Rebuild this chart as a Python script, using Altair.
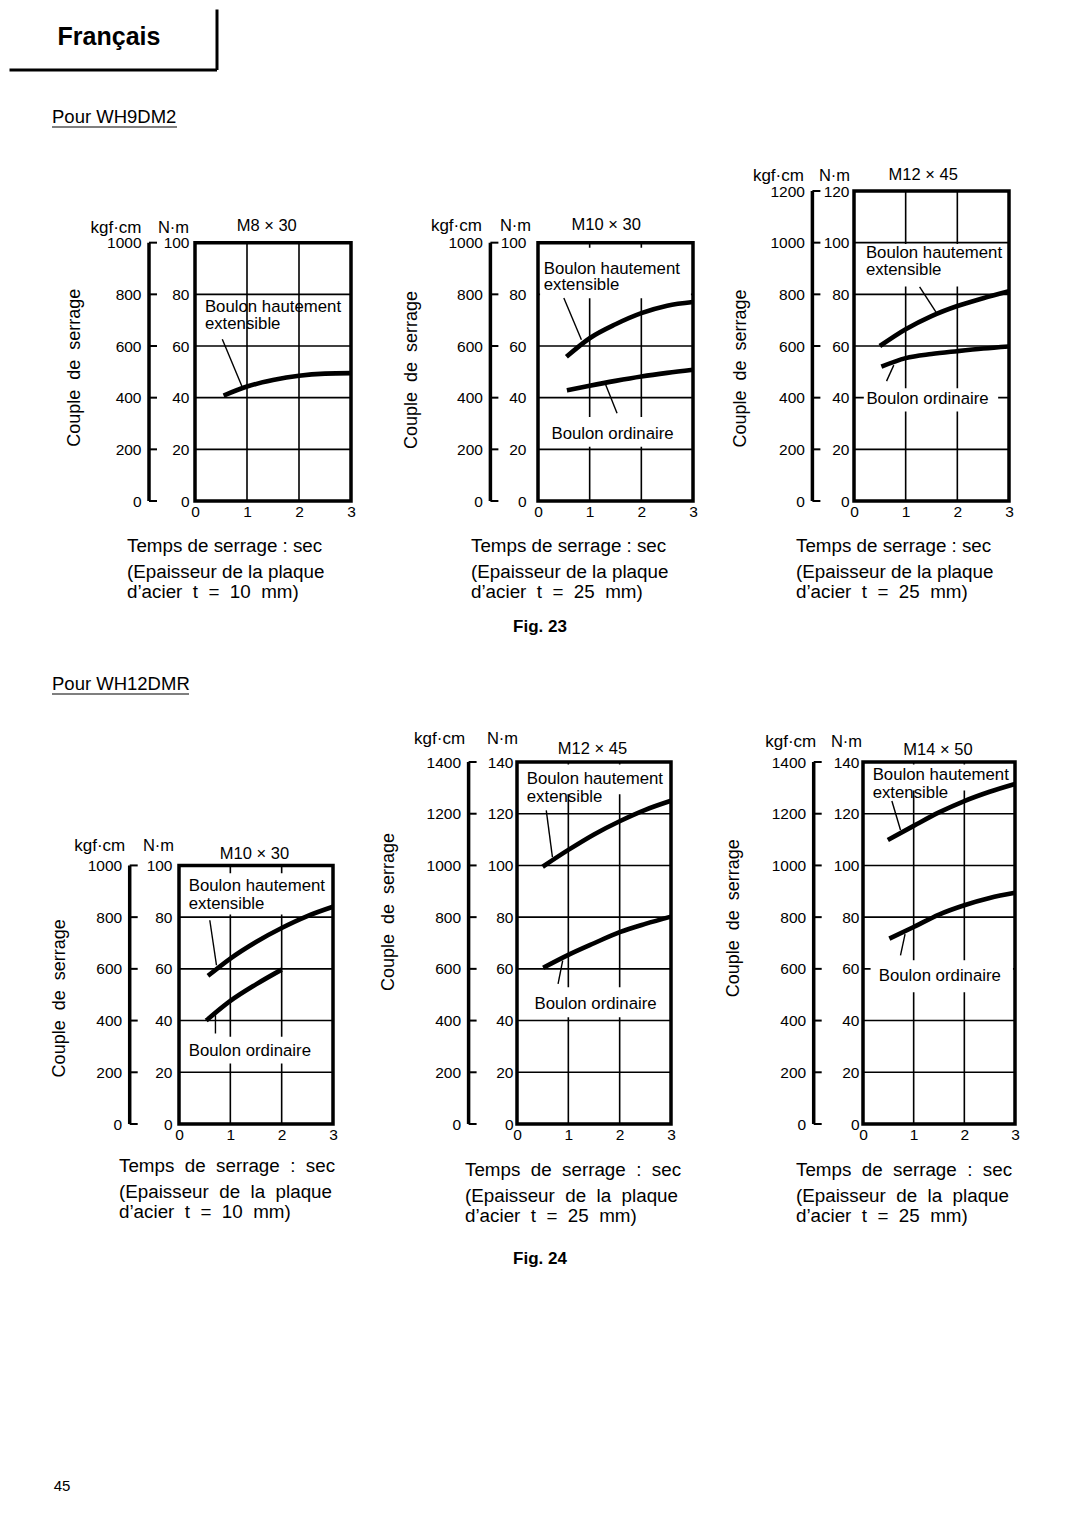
import altair as alt
import pandas as pd

FONT = "Liberation Sans"

# ------------------------------------------------------------------ data
x_ticks = [0, 1, 2, 3]

# Pour WH9DM2  (Fig. 23)
p1_title = "M8 × 30"
p1_hi_t = [0.55, 1.0, 1.5, 2.0, 2.5, 3.0]
p1_hi_v = [40.8, 44.3, 46.8, 48.5, 49.3, 49.5]
p1_or_t = []
p1_or_v = []

p2_title = "M10 × 30"
p2_hi_t = [0.55, 1.0, 1.5, 2.0, 2.5, 3.0]
p2_hi_v = [55.8, 63.0, 68.4, 72.7, 75.6, 77.0]
p2_or_t = [0.56, 1.0, 1.5, 2.0, 2.5, 3.0]
p2_or_v = [42.8, 44.6, 46.5, 48.2, 49.6, 50.8]

p3_title = "M12 × 45"
p3_hi_t = [0.5, 1.0, 1.5, 2.0, 2.5, 3.0]
p3_hi_v = [60.0, 66.5, 71.6, 75.5, 78.5, 81.2]
p3_or_t = [0.53, 1.0, 1.5, 2.0, 2.5, 3.0]
p3_or_v = [52.0, 55.3, 56.9, 58.0, 59.0, 59.8]

# Pour WH12DMR  (Fig. 24)
p4_title = "M10 × 30"
p4_hi_t = [0.565, 1.0, 1.5, 2.0, 2.5, 3.0]
p4_hi_v = [57.3, 64.0, 70.4, 75.8, 80.4, 84.0]
p4_or_t = [0.53, 1.0, 1.5, 2.0]
p4_or_v = [40.0, 47.6, 54.0, 59.7]

p5_title = "M12 × 45"
p5_hi_t = [0.5, 1.0, 1.5, 2.0, 2.5, 3.0]
p5_hi_v = [99.5, 106.0, 112.0, 117.1, 121.5, 125.0]
p5_or_t = [0.51, 1.0, 1.5, 2.0, 2.5, 3.0]
p5_or_v = [60.4, 65.4, 69.9, 74.2, 77.4, 80.2]

p6_title = "M14 × 50"
p6_hi_t = [0.49, 1.0, 1.5, 2.0, 2.5, 3.0]
p6_hi_v = [109.8, 115.3, 120.5, 124.9, 128.5, 131.5]
p6_or_t = [0.52, 1.0, 1.5, 2.0, 2.5, 3.0]
p6_or_v = [71.7, 76.2, 81.0, 84.6, 87.4, 89.4]

label_hi = ["Boulon hautement", "extensible"]
label_or = "Boulon ordinaire"
y_title = "Couple\u00a0 de\u00a0 serrage"
nm_title = "N·m"
kgf_title = "kgf·cm"

r1_xtitle = ["Temps de serrage : sec", "(Epaisseur de la plaque"]
r1_thick = ["d’acier\u00a0 t\u00a0 =\u00a0 10\u00a0 mm)", "d’acier\u00a0 t\u00a0 =\u00a0 25\u00a0 mm)"]
r2_xtitle = ["Temps\u00a0 de\u00a0 serrage\u00a0 :\u00a0 sec", "(Epaisseur\u00a0 de\u00a0 la\u00a0 plaque"]
r2_thick = ["d’acier\u00a0 t\u00a0 =\u00a0 10\u00a0 mm)", "d’acier\u00a0 t\u00a0 =\u00a0 25\u00a0 mm)"]

page_lang = "Français"
page_sections = ["Pour WH9DM2", "Pour WH12DMR"]
page_figs = ["Fig. 23", "Fig. 24"]
page_number = "45"

# annotation placement (data units: t in s, torque in N·m)
P = [
    dict(title=p1_title, hi=(p1_hi_t, p1_hi_v), orr=(p1_or_t, p1_or_v), ymax=100, w=156,
         kgf_off=46, nm_pad=6, nm_tx=-22, kg_tx=-8, ttl_y=36, tpos=(1.38, 106.4),
         ypos=(-2.31, 51.6), t_dx=-68, t_off=17, sub=(r1_xtitle, r1_thick[0]),
         hi_lab=(0.19, 75.1, 68.6), hi_lead=(0.525, 62.6, 0.9, 44.5), hi_box=None,
         or_lab=None, or_lead=None, or_box=None),
    dict(title=p2_title, hi=(p2_hi_t, p2_hi_v), orr=(p2_or_t, p2_or_v), ymax=100, w=155,
         kgf_off=47.6, nm_pad=12, nm_tx=-23, kg_tx=-9, ttl_y=34, tpos=(1.32, 107),
         ypos=(-2.43, 50.7), t_dx=-67, t_off=17, sub=(r1_xtitle, r1_thick[1]),
         hi_lab=(0.11, 90, 83.7), hi_lead=(0.50, 78.6, 0.84, 62.4), hi_box=(0.04, 2.96, 78.5, 98),
         or_lab=(0.26, 26), or_lead=(1.31, 45, 1.53, 34), or_box=(0.04, 2.96, 21, 32.5)),
    dict(title=p3_title, hi=(p3_hi_t, p3_hi_v), orr=(p3_or_t, p3_or_v), ymax=120, w=155,
         kgf_off=41.6, nm_pad=5, nm_tx=-20, kg_tx=-9, ttl_y=-15.6, tpos=(1.34, 126.1),
         ypos=(-2.19, 51.3), t_dx=-58, t_off=17, sub=(r1_xtitle, r1_thick[1]),
         hi_lab=(0.23, 96.1, 89.4), hi_lead=(1.27, 82.9, 1.59, 73), hi_box=(0.04, 2.96, 83, 99.5),
         or_lab=(0.24, 39.5), or_lead=(0.63, 46.4, 0.77, 52.6), or_box=(0.19, 2.79, 34.6, 43.6)),
    dict(title=p4_title, hi=(p4_hi_t, p4_hi_v), orr=(p4_or_t, p4_or_v), ymax=100, w=154,
         kgf_off=49.3, nm_pad=7, nm_tx=-21, kg_tx=-5, ttl_y=83.4, tpos=(1.47, 104.5),
         ypos=(-2.32, 48.6), t_dx=-60, t_off=14, sub=(r2_xtitle, r2_thick[0]),
         hi_lab=(0.19, 91.9, 84.9), hi_lead=(0.6, 78.8, 0.73, 61.4), hi_box=(0.04, 2.96, 81, 97),
         or_lab=(0.19, 28.3), or_lead=(0.71, 42.1, 0.71, 35), or_box=(0.04, 2.96, 23.4, 33.7)),
    dict(title=p5_title, hi=(p5_hi_t, p5_hi_v), orr=(p5_or_t, p5_or_v), ymax=140, w=154,
         kgf_off=48.4, nm_pad=4, nm_tx=-15, kg_tx=-4, ttl_y=-23.3, tpos=(1.47, 145.1),
         ypos=(-2.49, 82), t_dx=-52, t_off=18, sub=(r2_xtitle, r2_thick[1]),
         hi_lab=(0.19, 133.5, 126.4), hi_lead=(0.57, 121.3, 0.69, 103.2), hi_box=(0.04, 2.96, 127.5, 139),
         or_lab=(0.34, 46.4), or_lead=(0.89, 63.2, 0.80, 54.2), or_box=(0.2, 2.85, 41.3, 52.9)),
    dict(title=p6_title, hi=(p6_hi_t, p6_hi_v), orr=(p6_or_t, p6_or_v), ymax=140, w=152,
         kgf_off=49.3, nm_pad=4, nm_tx=-17, kg_tx=2, ttl_y=-20.6, tpos=(1.48, 144.7),
         ypos=(-2.54, 79.6), t_dx=-67, t_off=18, sub=(r2_xtitle, r2_thick[1]),
         hi_lab=(0.19, 135, 127.9), hi_lead=(0.57, 124.9, 0.74, 113.7), hi_box=(0.04, 2.96, 129, 139),
         or_lab=(0.31, 57.1), or_lead=(0.74, 65.2, 0.83, 73.4), or_box=(0.15, 2.96, 51, 63.3)),
]


# ------------------------------------------------------------------ panels
def panel(p, dom, height):
    ymax = p["ymax"]
    xs = alt.Scale(domain=[0, 3], nice=False, zero=False)
    ys = alt.Scale(domain=[0, dom], nice=False, zero=False)
    xaxis = alt.Axis(values=x_ticks, domain=False, ticks=False, grid=False, labelPadding=3,
                     labelFontSize=15.5, labelFlush=False, labelOverlap=False, title=None,
                     labelColor="black")
    nm_ticks = list(range(0, ymax + 1, 20))
    yaxis = alt.Axis(orient="left", values=nm_ticks, domain=False, ticks=False, grid=False,
                     labelPadding=p["nm_pad"], labelFontSize=15.5, labelFlush=False,
                     labelOverlap=False, labelColor="black", title=nm_title, titleAngle=0,
                     titleX=p["nm_tx"], titleY=p["ttl_y"], titleAlign="center",
                     titleBaseline="middle", titleFontSize=16.5, titleFontWeight="normal",
                     titleColor="black")

    def X(f):
        return alt.X(f, type="quantitative", scale=xs, axis=xaxis)

    def Y(f):
        return alt.Y(f, type="quantitative", scale=ys, axis=yaxis)

    layers = []
    hgrid = pd.DataFrame({"v": nm_ticks[1:-1], "x0": 0, "x1": 3})
    layers.append(alt.Chart(hgrid).mark_rule(color="black", strokeWidth=1.6)
                  .encode(x=X("x0"), x2="x1", y=Y("v")))
    vgrid = pd.DataFrame({"t": [1, 2], "y0": 0, "y1": ymax})
    layers.append(alt.Chart(vgrid).mark_rule(color="black", strokeWidth=1.6)
                  .encode(x=X("t"), y=Y("y0"), y2="y1"))
    boxes = [b for b in (p["hi_box"], p["or_box"]) if b]
    if boxes:
        bdf = pd.DataFrame(boxes, columns=["x0", "x1", "y0", "y1"])
        layers.append(alt.Chart(bdf).mark_rect(fill="white", stroke=None)
                      .encode(x=X("x0"), x2="x1", y=Y("y0"), y2="y1"))
    frame = pd.DataFrame({"x0": [0], "x1": [3], "y0": [0], "y1": [ymax]})
    layers.append(alt.Chart(frame).mark_rect(filled=False, stroke="black", strokeWidth=3.5)
                  .encode(x=X("x0"), x2="x1", y=Y("y0"), y2="y1"))
    # kgf·cm scale bar
    off = p["kgf_off"]
    layers.append(alt.Chart(frame).mark_rule(color="black", strokeWidth=3.5)
                  .encode(x=alt.value(-off), y=Y("y0"), y2="y1"))
    kdf = pd.DataFrame({"nm": nm_ticks})
    layers.append(alt.Chart(kdf).mark_rule(color="black", strokeWidth=2)
                  .encode(x=alt.value(-off), x2=alt.value(-off + 8), y=Y("nm")))
    # annotations
    ann = [dict(text=label_hi[0], x=p["hi_lab"][0], y=p["hi_lab"][1]),
           dict(text=label_hi[1], x=p["hi_lab"][0], y=p["hi_lab"][2])]
    if p["or_lab"]:
        ann.append(dict(text=label_or, x=p["or_lab"][0], y=p["or_lab"][1]))
    layers.append(alt.Chart(pd.DataFrame(ann)).mark_text(align="left", baseline="middle",
                                                         fontSize=16.8, color="black")
                  .encode(x=X("x"), y=Y("y"), text="text"))
    leads = [l for l in (p["hi_lead"], p["or_lead"]) if l]
    ldf = pd.DataFrame(leads, columns=["x0", "y0", "x1", "y1"])
    layers.append(alt.Chart(ldf).mark_rule(color="black", strokeWidth=1.4)
                  .encode(x=X("x0"), y=Y("y0"), x2="x1", y2="y1"))
    rows = [dict(series="hi", t=t, v=v) for t, v in zip(*p["hi"])]
    rows += [dict(series="or", t=t, v=v) for t, v in zip(*p["orr"])]
    layers.append(alt.Chart(pd.DataFrame(rows)).mark_line(color="black", strokeWidth=4.6,
                                                           interpolate="monotone")
                  .encode(x=X("t"), y=Y("v"), detail="series:N"))
    tdf = pd.DataFrame([dict(text=p["title"], x=p["tpos"][0], y=p["tpos"][1])])
    layers.append(alt.Chart(tdf).mark_text(fontSize=16.5, color="black", baseline="middle")
                  .encode(x=X("x"), y=Y("y"), text="text"))
    ydf = pd.DataFrame([dict(text=y_title, x=p["ypos"][0], y=p["ypos"][1])])
    layers.append(alt.Chart(ydf).mark_text(fontSize=18, angle=270, color="black",
                                           baseline="middle")
                  .encode(x=X("x"), y=Y("y"), text="text"))
    main = alt.layer(*layers)

    kgf_ticks = [v * 10 for v in nm_ticks]
    kaxis = alt.Axis(orient="left", offset=off, values=kgf_ticks, format="d", domain=False,
                     ticks=False, grid=False, labelPadding=8, labelFontSize=15.5,
                     labelFlush=False, labelOverlap=False, labelColor="black",
                     title=kgf_title, titleAngle=0, titleX=p["kg_tx"], titleY=p["ttl_y"],
                     titleAlign="right", titleBaseline="middle", titleFontSize=17,
                     titleFontWeight="normal", titleColor="black")
    kgf = (alt.Chart(pd.DataFrame({"kgf": kgf_ticks})).mark_point(opacity=0)
           .encode(y=alt.Y("kgf:Q", scale=alt.Scale(domain=[0, dom * 10], nice=False),
                           axis=kaxis)))
    sub = p["sub"]
    return (alt.layer(main, kgf).resolve_scale(y="independent")
            .properties(width=p["w"], height=height,
                        title=alt.TitleParams(text=sub[0][0], subtitle=[sub[0][1], sub[1]],
                                              orient="bottom", anchor="start", frame="group",
                                              dx=p["t_dx"], offset=p["t_off"], fontSize=18.8,
                                              subtitleFontSize=18.8, subtitleLineHeight=20,
                                              subtitlePadding=8, fontWeight="normal",
                                              color="black", subtitleColor="black",
                                              font=FONT, subtitleFont=FONT)))


def spacer(w, h):
    return (alt.Chart(pd.DataFrame({"a": [0]})).mark_point(opacity=0)
            .properties(width=w, height=h))


def textcell(w, h, items, rules, markers):
    """A spacer cell that also carries page-level texts (positions relative to the cell)."""
    ls = [alt.Chart(pd.DataFrame({"a": [0]})).mark_point(opacity=0)]
    for (txt, x, y, size, weight, align) in items:
        ls.append(alt.Chart(pd.DataFrame({"t": [txt]}))
                  .mark_text(fontSize=size, fontWeight=weight, align=align,
                             baseline="middle", color="black")
                  .encode(text="t", x=alt.value(x), y=alt.value(y)))
    for (x0, y0, x1, y1, sw) in rules:
        ls.append(alt.Chart(pd.DataFrame({"a": [0]})).mark_rule(color="black", strokeWidth=sw)
                  .encode(x=alt.value(x0), y=alt.value(y0), x2=alt.value(x1), y2=alt.value(y1)))
    for y in markers:  # invisible extent markers that fix the row spacing
        ls.append(alt.Chart(pd.DataFrame({"a": [0]})).mark_rule(color="white", opacity=0,
                                                                strokeWidth=1)
                  .encode(x=alt.value(20), x2=alt.value(30), y=alt.value(y)))
    return alt.layer(*ls).properties(width=w, height=h)


H1, H2 = 310, 362
# row 1 first cell carries header and the "Fig. 23 / Pour WH12DMR" block
cell1 = textcell(187, H1,
                 [(page_lang, 101, -154, 25, "bold", "center"),
                  (page_sections[0], 44, -74, 18.5, "normal", "left"),
                  (page_figs[0], 532, 436, 17, "bold", "center"),
                  (page_sections[1], 44, 493, 18.5, "normal", "left")],
                 [(209, -181.5, 209, -121, 3), (1.5, -121, 209, -121, 3),
                  (44, -64, 169, -64, 1.2), (44, 503, 181, 503, 1.2)],
                 [513])
cell2 = textcell(171, H2,
                 [(page_figs[1], 532, 497, 17, "bold", "center"),
                  (page_number, 54, 724, 15, "normal", "center")], [], [-57.5])

row1 = alt.hconcat(cell1, panel(P[0], 120, H1), spacer(187, H1), panel(P[1], 120, H1),
                   spacer(161, H1), panel(P[2], 120, H1), spacing=0, bounds="flush")
row2 = alt.hconcat(cell2, panel(P[3], 140, H2), spacer(184, H2), panel(P[4], 140, H2),
                   spacer(192, H2), panel(P[5], 140, H2), spacing=0, bounds="flush")

chart = (alt.vconcat(row1, row2, spacing=0)
         .properties(padding=0)
         .configure(font=FONT)
         .configure_view(stroke=None)
         .configure_text(font=FONT))

chart.save("out.html", embed_options={"renderer": "svg", "actions": False})
